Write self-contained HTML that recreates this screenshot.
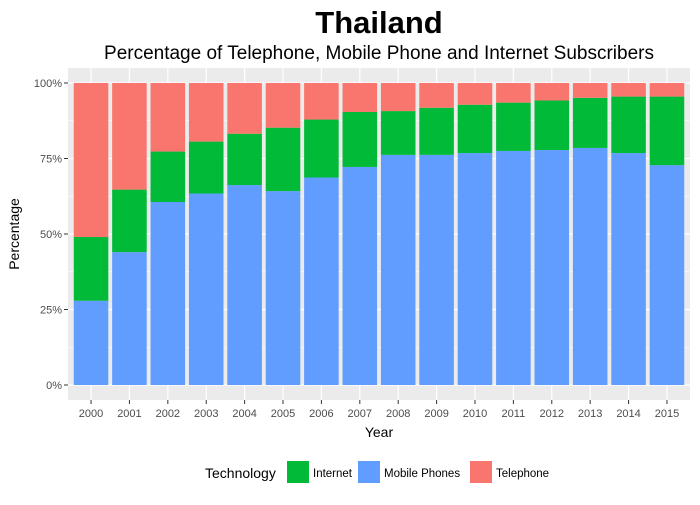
<!DOCTYPE html>
<html><head><meta charset="utf-8"><style>
body{margin:0;background:#fff;font-family:"Liberation Sans",sans-serif}
</style></head><body>
<svg width="700" height="500" xmlns="http://www.w3.org/2000/svg" font-family="Liberation Sans, sans-serif">
<text x="379" y="33" font-size="31" font-weight="bold" text-anchor="middle">Thailand</text>
<text x="379" y="59" font-size="19" text-anchor="middle">Percentage of Telephone, Mobile Phone and Internet Subscribers</text>
<rect x="68" y="68" width="622" height="332" fill="#ebebeb"/>
<g id="grid"></g><g id="bars"></g><g id="axes"></g>
<text x="379" y="437" font-size="14" text-anchor="middle">Year</text>
<text transform="translate(19,234) rotate(-90)" font-size="14" text-anchor="middle">Percentage</text>
<g>
<text x="205" y="478" font-size="14">Technology</text>
<rect x="287" y="461" width="22" height="22" fill="#00ba38"/>
<text x="313" y="477" font-size="11.5">Internet</text>
<rect x="358" y="461" width="22" height="22" fill="#619cff"/>
<text x="384" y="477" font-size="11.5">Mobile Phones</text>
<rect x="470" y="461" width="22" height="22" fill="#f8766d"/>
<text x="496" y="477" font-size="11.5">Telephone</text>
</g>
</svg>
<script>
const years=["2000","2001","2002","2003","2004","2005","2006","2007","2008","2009","2010","2011","2012","2013","2014","2015"];
const mobile=[27.9,44.0,60.6,63.4,66.2,64.2,68.7,72.2,76.2,76.2,76.8,77.5,77.8,78.5,76.8,72.8];
const internet=[21.1,20.7,16.7,17.2,17.0,21.0,19.2,18.2,14.5,15.6,16.0,16.0,16.4,16.6,18.7,22.7];
const telephone=[51.0,35.3,22.7,19.4,16.8,14.8,12.1,9.6,9.3,8.2,7.2,6.5,5.8,4.9,4.5,4.5];
const yTicks=[0,25,50,75,100];
const yTickLabels=["0%","25%","50%","75%","100%"];
const NS="http://www.w3.org/2000/svg";
const L=68,R=690,T=68,B=400;
const step=(R-L)/(years.length-1+1.2);
const bw=step*0.9;
function xc(i){return L+step*(0.6+i);}
function y(p){return 385-p*3.02;}
function mk(t,a,parent){const e=document.createElementNS(NS,t);for(const k in a)e.setAttribute(k,a[k]);parent.appendChild(e);return e;}
const grid=document.getElementById('grid'),bars=document.getElementById('bars'),axes=document.getElementById('axes');
[12.5,37.5,62.5,87.5].forEach(p=>{const l=mk('line',{x1:L,x2:R,y1:y(p),y2:y(p),stroke:'#fff','stroke-width':0.6},grid);

});
yTicks.forEach((p,i)=>{const l=mk('line',{x1:L,x2:R,y1:y(p),y2:y(p),stroke:'#fff','stroke-width':1.2},grid);


const tk=mk('line',{x1:L-4,x2:L,y1:y(p),y2:y(p),stroke:'#333','stroke-width':1},axes);


const t=mk('text',{x:L-6,y:y(p)+4,'font-size':11,'text-anchor':'end',fill:'#4d4d4d'},axes);t.textContent=yTickLabels[i];

});
years.forEach((yr,i)=>{const x=xc(i);
const g=mk('line',{x1:x,x2:x,y1:T,y2:B,stroke:'#fff','stroke-width':1.2},grid);


const segs=[[0,mobile[i],'#619cff','mobile'],[mobile[i],mobile[i]+internet[i],'#00ba38','internet'],[mobile[i]+internet[i],mobile[i]+internet[i]+telephone[i],'#f8766d','telephone']];
segs.forEach(s=>{const r=mk('rect',{x:x-bw/2,y:y(s[1]),width:bw,height:y(s[0])-y(s[1]),fill:s[2]},bars);

});
const tk=mk('line',{x1:x,x2:x,y1:B,y2:B+4,stroke:'#333','stroke-width':1},axes);


const t=mk('text',{x:x,y:B+17,'font-size':11,'text-anchor':'middle',fill:'#4d4d4d'},axes);t.textContent=yr;

});
</script>
</body></html>
